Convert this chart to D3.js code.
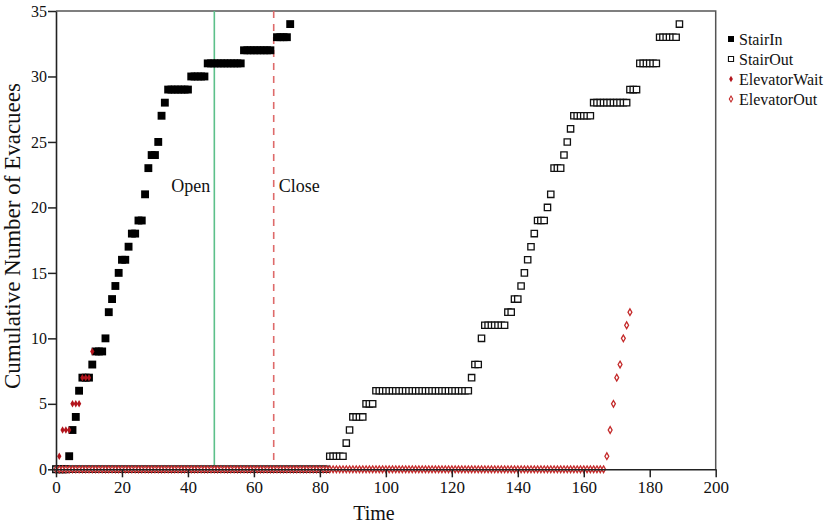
<!DOCTYPE html>
<html>
<head>
<meta charset="utf-8">
<script src="https://cdn.jsdelivr.net/npm/d3@7"></script>
<style>
  body { margin: 0; background: #fff; }
  svg text { font-family: "Liberation Serif", "Times New Roman", serif; fill: #111; }
</style>
</head>
<body>
<div id="chart"></div>
<script>
// runs: [first second, last second, cumulative count]
const stairInRuns = [
  [0, 3, 0], [4, 4, 1], [5, 5, 3], [6, 6, 4], [7, 7, 6], [8, 10, 7], [11, 11, 8],
  [12, 14, 9], [15, 15, 10], [16, 16, 12], [17, 17, 13], [18, 18, 14], [19, 19, 15],
  [20, 21, 16], [22, 22, 17], [23, 24, 18], [25, 26, 19], [27, 27, 21], [28, 28, 23],
  [29, 30, 24], [31, 31, 25], [32, 32, 27], [33, 33, 28], [34, 40, 29], [41, 45, 30],
  [46, 56, 31], [57, 65, 32], [67, 70, 33], [71, 71, 34]
];
const stairOutRuns = [
  [0, 82, 0], [83, 87, 1], [88, 88, 2], [89, 89, 3], [90, 93, 4], [94, 96, 5],
  [97, 125, 6], [126, 126, 7], [127, 128, 8], [129, 129, 10], [130, 136, 11],
  [137, 138, 12], [139, 140, 13], [141, 141, 14], [142, 142, 15], [143, 143, 16],
  [144, 144, 17], [145, 145, 18], [146, 148, 19], [149, 149, 20], [150, 150, 21],
  [151, 153, 23], [154, 154, 24], [155, 155, 25], [156, 156, 26], [157, 162, 27],
  [163, 173, 28], [174, 176, 29], [177, 182, 31], [183, 188, 33], [189, 189, 34]
];
const elevatorWaitRuns = [
  [0, 0, 0], [1, 1, 1], [2, 4, 3], [5, 7, 5], [8, 10, 7], [11, 11, 9]
];
const elevatorOutRuns = [
  [0, 166, 0], [167, 167, 1], [168, 168, 3], [169, 169, 5], [170, 170, 7],
  [171, 171, 8], [172, 172, 10], [173, 173, 11], [174, 174, 12]
];

const seriesNames = ["StairIn", "StairOut", "ElevatorWait", "ElevatorOut"];
const xTicks = [0, 20, 40, 60, 80, 100, 120, 140, 160, 180, 200];
const yTicks = [0, 5, 10, 15, 20, 25, 30, 35];
const openTime = 48;
const closeTime = 66;

const width = 839, height = 525;

const svg = d3.select("#chart").append("svg")
  .attr("width", width)
  .attr("height", height);

const x = d3.scaleLinear().domain([0, 200]).range([56, 715.7]);
const y = d3.scaleLinear().domain([0, 35]).range([469.3, 11]);

const expand = runs => runs.flatMap(([a, b, v]) => d3.range(a, b + 1).map(t => ({ t, v })));

// frame (top + right)
svg.append("path")
  .attr("d", `M${x(0)},${y(35)}H${x(200)}V${y(0)}`)
  .attr("fill", "none")
  .attr("stroke", "#555")
  .attr("stroke-width", 1.5);

// open / close lines
svg.append("line")
  .attr("x1", x(openTime)).attr("x2", x(openTime))
  .attr("y1", y(35)).attr("y2", y(0))
  .attr("stroke", "#5cc08a").attr("stroke-width", 1.6);
svg.append("line")
  .attr("x1", x(closeTime)).attr("x2", x(closeTime))
  .attr("y1", y(35)).attr("y2", y(0))
  .attr("stroke", "#de6a6a").attr("stroke-width", 1.6)
  .attr("stroke-dasharray", "7,6");

svg.append("text").attr("x", x(openTime) - 4).attr("y", 192)
  .attr("text-anchor", "end").attr("font-size", 18).text("Open");
svg.append("text").attr("x", x(closeTime) + 5).attr("y", 192)
  .attr("font-size", 18).text("Close");

// symbols
const square = d3.symbol().type(d3.symbolSquare);
const diamond = d3.symbol().type(d3.symbolDiamond);

const styles = [
  { runs: stairInRuns, path: square.size(62)(), fill: "#000", stroke: "none", sw: 0 },
  { runs: stairOutRuns, path: square.size(40)(), fill: "#fff", stroke: "#111", sw: 1.3 },
  { runs: elevatorWaitRuns, path: diamond.size(16)(), fill: "#b3141c", stroke: "none", sw: 0 },
  { runs: elevatorOutRuns, path: diamond.size(13)(), fill: "#fff", stroke: "#c42a2a", sw: 1.3 }
];

styles.forEach(s => {
  svg.append("g").selectAll("path")
    .data(expand(s.runs))
    .join("path")
    .attr("d", s.path)
    .attr("transform", d => `translate(${x(d.t)},${y(d.v)})`)
    .attr("fill", s.fill)
    .attr("stroke", s.stroke)
    .attr("stroke-width", s.sw);
});

// axes
const xAxis = svg.append("g")
  .attr("transform", `translate(0,${y(0)})`)
  .call(d3.axisBottom(x).tickValues(xTicks).tickSize(8).tickSizeOuter(0).tickPadding(4));
xAxis.selectAll("text").attr("font-size", 17).attr("font-family", "Liberation Serif").attr("fill", "#222");

const yAxis = svg.append("g")
  .attr("transform", `translate(${x(0)},0)`)
  .call(d3.axisLeft(y).tickValues(yTicks).tickSize(8).tickSizeOuter(0).tickPadding(1));
yAxis.selectAll("text").attr("font-size", 16).attr("font-family", "Liberation Serif").attr("fill", "#222");

[xAxis, yAxis].forEach(g => {
  g.select(".domain").attr("stroke", "#222").attr("stroke-width", 1.6);
  g.selectAll(".tick line").attr("stroke", "#222").attr("stroke-width", 1.5);
});

// axis titles
svg.append("text")
  .attr("x", 374).attr("y", 520)
  .attr("text-anchor", "middle").attr("font-size", 20)
  .text("Time");
svg.append("text")
  .attr("transform", "translate(20,236) rotate(-90)")
  .attr("text-anchor", "middle").attr("font-size", 23)
  .text("Cumulative Number of Evacuees");

// legend
const legend = svg.append("g").attr("transform", "translate(731,39)");
const legendSym = [
  { path: square.size(36)(), fill: "#000", stroke: "none", sw: 0 },
  { path: square.size(26)(), fill: "#fff", stroke: "#111", sw: 1.1 },
  { path: diamond.size(12)(), fill: "#b3141c", stroke: "none", sw: 0 },
  { path: diamond.size(10)(), fill: "#fff", stroke: "#c42a2a", sw: 1.1 }
];
seriesNames.forEach((name, i) => {
  const row = legend.append("g").attr("transform", `translate(0,${i * 20})`);
  row.append("path")
    .attr("d", legendSym[i].path)
    .attr("fill", legendSym[i].fill)
    .attr("stroke", legendSym[i].stroke)
    .attr("stroke-width", legendSym[i].sw);
  row.append("text")
    .attr("x", 8).attr("y", 5.5)
    .attr("font-size", 16)
    .text(name);
});
</script>
</body>
</html>
